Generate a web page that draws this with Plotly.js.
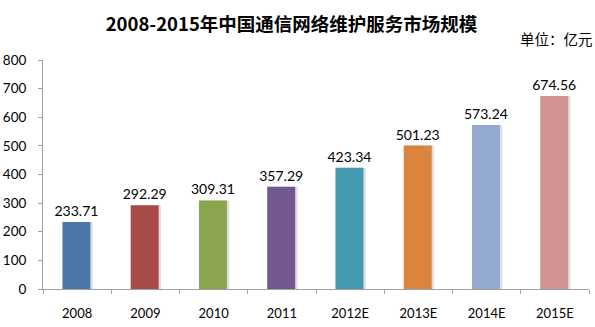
<!DOCTYPE html>
<html><head><meta charset="utf-8">
<script src="https://cdn.plot.ly/plotly-3.0.1.min.js"></script>
<style>html,body{margin:0;padding:0;background:#fff}</style>
</head><body><div id="chart" style="width:595px;height:327px"></div>
<script>
const categories = ["2008","2009","2010","2011","2012E","2013E","2014E","2015E"];
const values = [233.71,292.29,309.31,357.29,423.34,501.23,573.24,674.56];
const labels = ["233.71","292.29","309.31","357.29","423.34","501.23","573.24","674.56"];
const colors = ["#4a76a8","#a84a47","#89a54e","#71588f","#4198af","#db843d","#93a9cf","#d19392"];
const yTicks = [0,100,200,300,400,500,600,700,800];

const shadow = {
  type:"bar", x:categories, y:values, marker:{color:"rgba(150,150,150,0.3)"},
  width:0.41, offset:-0.18, hoverinfo:"skip", showlegend:false
};
const bars = {
  type:"bar", x:categories, y:values, marker:{color:colors},
  width:0.41, offset:-0.215,
  text:labels, textposition:"outside", cliponaxis:false, constraintext:"none",
  textfont:{family:"Lato, 'Liberation Sans', sans-serif", size:14, color:"#000"},
  showlegend:false
};
const layout = {
  width:595, height:327,
  margin:{l:43, r:6, t:60, b:38},
  paper_bgcolor:"#fff", plot_bgcolor:"#fff",
  barmode:"overlay",
  title:{text:"<b>2008-2015年中国通信网络维护服务市场规模</b>", x:0.49, xanchor:"center", y:0.925, yanchor:"middle",
    font:{family:"'Noto Sans CJK SC', sans-serif", size:18.5, color:"#000"}},
  xaxis:{type:"category", tickson:"boundaries", ticks:"outside", ticklen:4, tickcolor:"#a0a0a0",
    showline:true, linecolor:"#a0a0a0", linewidth:1, showgrid:false, ticklabelstandoff:12,
    tickfont:{family:"Lato, 'Liberation Sans', sans-serif", size:13, color:"#000"}},
  yaxis:{range:[0,800], tickvals:yTicks, ticks:"outside", ticklen:4, tickcolor:"#a0a0a0",
    showline:true, linecolor:"#a0a0a0", linewidth:1, showgrid:false, zeroline:false, ticklabelstandoff:9,
    tickfont:{family:"Lato, 'Liberation Sans', sans-serif", size:13.5, color:"#000"}},
  annotations:[{text:"单位：亿元", xref:"paper", yref:"paper", x:1.011, y:1.096, xanchor:"right", yanchor:"middle",
    showarrow:false, font:{family:"'Noto Sans CJK SC', sans-serif", size:14.5, color:"#000"}}]
};
Plotly.newPlot("chart",[shadow,bars],layout,{displayModeBar:false,staticPlot:true});
</script></body></html>
